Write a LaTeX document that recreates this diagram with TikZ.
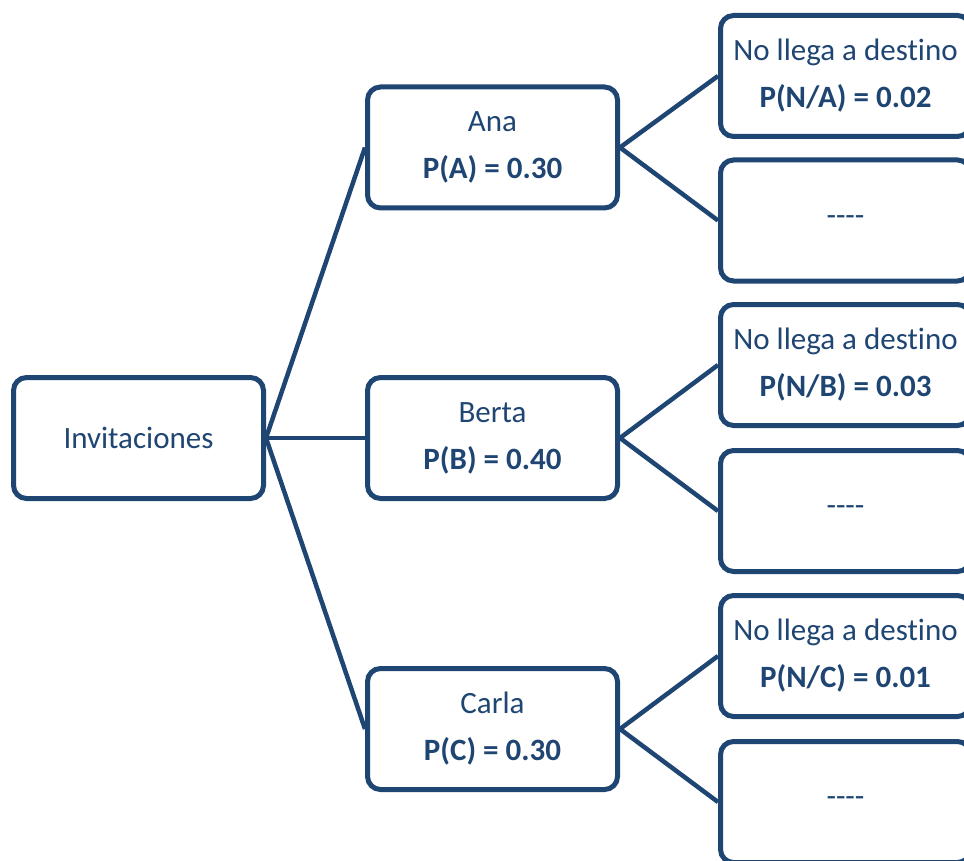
\documentclass[tikz,border=0pt]{standalone}
\usepackage{fontspec}
\setmainfont{Carlito}[Ligatures={NoCommon}]
\definecolor{nb}{HTML}{1F4573}
\begin{document}
\begin{tikzpicture}[x=1pt,y=-1pt,
  box/.style={draw=nb, line width=5pt, rounded corners=13pt, fill=white,
    minimum width=250pt, minimum height=121pt, inner sep=0pt,
    align=center, text=nb, font=\fontsize{31}{47}\selectfont},
  conn/.style={draw=nb, line width=4.5pt}]
\useasboundingbox (0,0) rectangle (964,861);
\clip (0,0) rectangle (964,861);
\node[box] (inv) at (138.5,438) {Invitaciones};
\node[box] (ana) at (492.5,147.5) {Ana\\\textbf{P(A) = 0.30}};
\node[box] (ber) at (492.5,438) {Berta\\\textbf{P(B) = 0.40}};
\node[box] (car) at (492.5,729) {Carla\\\textbf{P(C) = 0.30}};
\node[box] (na) at (845.5,76) {No llega a destino\\\textbf{P(N/A) = 0.02}};
\node[box] (oa) at (845.5,220.5) {-{}-{}-{}-};
\node[box] (nb) at (845.5,365) {No llega a destino\\\textbf{P(N/B) = 0.03}};
\node[box] (ob) at (845.5,511) {-{}-{}-{}-};
\node[box] (nc) at (845.5,656) {No llega a destino\\\textbf{P(N/C) = 0.01}};
\node[box] (oc) at (845.5,802) {-{}-{}-{}-};
\draw[conn] (inv.east) -- (ana.west);
\draw[conn] (inv.east) -- (ber.west);
\draw[conn] (inv.east) -- (car.west);
\draw[conn] (ana.east) -- (na.west);
\draw[conn] (ana.east) -- (oa.west);
\draw[conn] (ber.east) -- (nb.west);
\draw[conn] (ber.east) -- (ob.west);
\draw[conn] (car.east) -- (nc.west);
\draw[conn] (car.east) -- (oc.west);
\end{tikzpicture}
\end{document}
